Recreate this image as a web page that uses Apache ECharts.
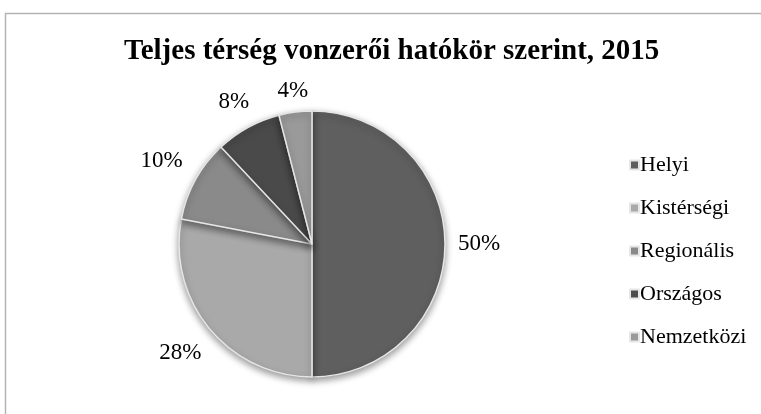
<!DOCTYPE html>
<html><head><meta charset="utf-8">
<script src="https://cdn.jsdelivr.net/npm/echarts@6/dist/echarts.min.js"></script>
<style>html,body{margin:0;padding:0;background:#fff}#c{width:761px;height:414px}</style>
</head><body><div id="c"></div>
<script>
const titleText = 'Teljes térség vonzerői hatókör szerint, 2015';
const categories = ['Helyi', 'Kistérségi', 'Regionális', 'Országos', 'Nemzetközi'];
const values = [50, 28, 10, 8, 4];
const colors = ['#5f5f5f', '#a9a9a9', '#8a8a8a', '#4a4a4a', '#9a9a9a'];

const CX = 312, CY = 244, R = 133, RING = [158, 176], GAP = 13;
const pieData = categories.map((n, i) => ({name: n, value: values[i]}));
const chart = echarts.init(document.getElementById('c'));
chart.setOption({
  backgroundColor: '#fff',
  animation: false,
  color: colors,
  graphic: [{
    type: 'rect', shape: {x: 5.5, y: 13.5, width: 800, height: 500},
    style: {fill: 'none', stroke: '#b4b4b4', lineWidth: 1.5}
  }],
  title: {
    text: titleText, left: 119, top: 32,
    textStyle: {fontFamily: 'Liberation Serif', fontWeight: 'bold', fontSize: 29, color: '#000'}
  },
  legend: {
    orient: 'vertical', left: 624, top: 149, itemWidth: 9, itemHeight: 9, itemGap: 21,
    icon: 'rect',
    textStyle: {fontFamily: 'Liberation Serif', fontSize: 22, color: '#000', padding: [0,0,0,-4]},
    data: categories
  },
  series: [{
    type: 'pie', center: [CX, CY], radius: R, startAngle: 90, clockwise: true,
    data: pieData,
    itemStyle: {borderColor: '#e6e6e6', borderWidth: 1.5, shadowBlur: 7, shadowColor: 'rgba(0,0,0,0.4)', shadowOffsetY: 3},
    label: {show: false},
    labelLine: {show: false},
    emphasis: {disabled: true},
    silent: true
  }, {
    type: 'pie', center: [CX, CY], radius: RING, startAngle: 90, clockwise: true,
    data: pieData,
    itemStyle: {color: 'rgba(0,0,0,0)'},
    label: {
      show: true, position: 'inside', formatter: '{c}%', rotate: 0,
      fontFamily: 'Liberation Serif', fontSize: 23, color: '#000'
    },
    labelLayout: function (p) {
      const r = p.labelRect;
      const lx = r.x + r.width / 2, ly = r.y + r.height / 2;
      const d = Math.hypot(lx - CX, ly - CY) || 1;
      const ux = (lx - CX) / d, uy = (ly - CY) / d;
      const target = R + GAP + Math.abs(ux) * r.width / 2 + Math.abs(uy) * (r.height - 14) / 2
        + 12 * Math.abs(ux * uy);
      return {dx: ux * (target - d), dy: uy * (target - d)};
    },
    labelLine: {show: false},
    emphasis: {disabled: true},
    silent: true
  }]
});
</script></body></html>
